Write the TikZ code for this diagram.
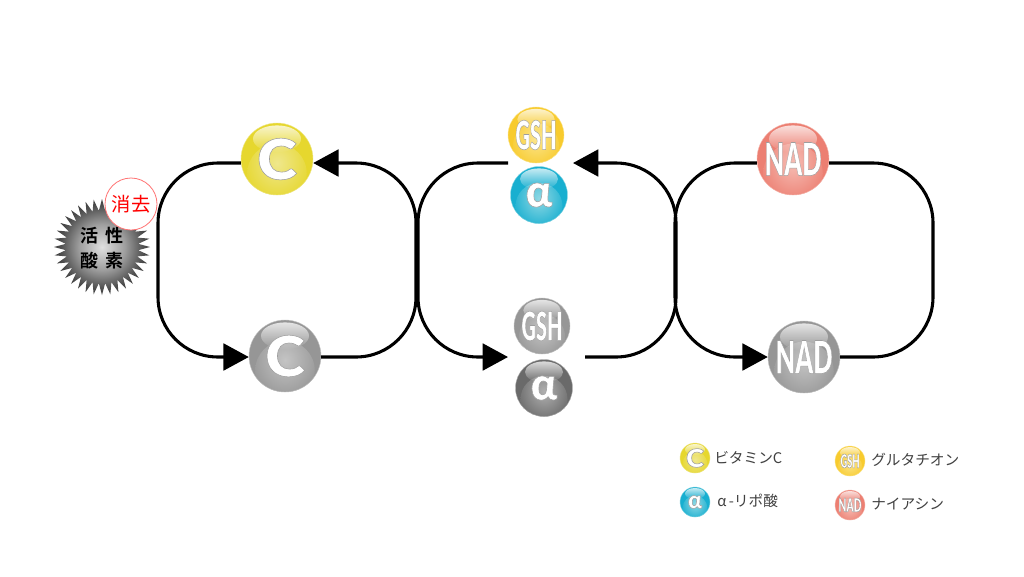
\documentclass[tikz,border=0pt]{standalone}
\usepackage{fontspec}
\usepackage{graphicx}
\setmainfont{Liberation Sans}
\newfontfamily\cjk{Noto Sans CJK JP}
\newfontfamily\cjkb{Noto Sans CJK JP Bold}
\newfontfamily\ballfont{Lato Black}
\usetikzlibrary{arrows.meta,fadings,shapes.geometric,backgrounds}
\newcommand{\balltxt}[3]{\scalebox{#2}[1]{\fontsize{#1}{#1}\ballfont\special{pdf:code q 2 Tr 0.4 w 0.62 G 1 g}#3\special{pdf:code Q}}}
\definecolor{cyel}{HTML}{E6D72E}\definecolor{cyell}{HTML}{EFE78C}
\definecolor{cgol}{HTML}{F8CB2E}\definecolor{cgoll}{HTML}{FBE58E}
\definecolor{ctea}{HTML}{18AFD0}\definecolor{cteal}{HTML}{8FD8E4}
\definecolor{cred}{HTML}{EC7F72}\definecolor{credl}{HTML}{F6BDB4}
\definecolor{cgra}{HTML}{969696}\definecolor{cgral}{HTML}{C4C4C4}
\definecolor{cdrk}{HTML}{6A6A6A}\definecolor{cdrkl}{HTML}{B0B0B0}
\pgfdeclareradialshading{burstshade}{\pgfpoint{0pt}{0pt}}{%
  color(0pt)=(white!88!black);color(12pt)=(white!62!black);color(22pt)=(black!70);color(30pt)=(black!85);color(50pt)=(black!90)}
\tikzset{
  ball/.style n args={3}{circle,inner sep=0pt,minimum size=#3*1.5pt,draw=#2,line width=0.3pt,align=center,
    path picture={
      \shade[inner color=#2,outer color=#1] ([yshift=-#3*.30pt]path picture bounding box.center) circle[radius=#3*.62pt];
      \fill[white,opacity=.75,path fading=south] ([yshift=#3*.42pt]path picture bounding box.center) ellipse[x radius=#3*.50pt,y radius=#3*.28pt];
    },
    preaction={fill=#1}},
  conn/.style={line width=2.3pt,rounded corners=45pt,line join=round},
  tip/.style={-{Triangle[length=19pt,width=20pt]}},
  legtxt/.style={anchor=west,inner sep=0pt,text=black!75,font=\cjk\fontsize{11pt}{12pt}\selectfont}
}
\begin{document}
\begin{tikzpicture}[x=0.75pt,y=-0.75pt]
\useasboundingbox[fill=white] (0,0) rectangle (1024,576);

% burst
\node[star,star points=36,star point ratio=1.32,minimum size=72pt,inner sep=0pt,
      shading=burstshade] (burst) at (102,247) {};
\node[inner sep=0pt,align=center,font=\cjkb\fontsize{13.5pt}{18.5pt}\selectfont] (burstt) at (102,248)
  {活\hspace{.35em}性\\酸\hspace{.35em}素};
\node[circle,draw=red!55,line width=.6pt,fill=white,minimum size=39pt,inner sep=0pt,text=red,
      font=\cjk\fontsize{14.5pt}{15pt}\selectfont] (kesu) at (131,204) {消去};

% balls
\node[ball={cyel}{cyell}{36}] (ctop) at (277,159) {\balltxt{42pt}{1.08}{C}};
\node[ball={cgra}{cgral}{36}] (cbot) at (285,356) {\balltxt{42pt}{1.08}{C}};
\node[ball={cgol}{cgoll}{28}] (gtop) at (536,135) {\balltxt{30pt}{.5}{GSH}};
\node[ball={ctea}{cteal}{28.5}] (atop) at (539,195) {\balltxt{34pt}{.95}{α}};
\node[ball={cgra}{cgral}{28}] (gbot) at (542,326) {\balltxt{30pt}{.5}{GSH}};
\node[ball={cdrk}{cdrkl}{28.5}] (abot) at (544,388) {\balltxt{34pt}{.95}{α}};
\node[ball={cred}{credl}{36}] (ntop) at (793,159) {\balltxt{34pt}{.56}{NAD}};
\node[ball={cgra}{cgral}{36}] (nbot) at (804,357) {\balltxt{34pt}{.56}{NAD}};

% free ends and corners
\coordinate (a1) at (158,163); \coordinate (a2) at (158,357);
\coordinate (b1) at (416,357); \coordinate (b2) at (416,163);
\coordinate (c0) at (508,163); \coordinate (c1) at (418,163); \coordinate (c2) at (418,357); \coordinate (c3) at (508,357);
\coordinate (d0) at (585,357); \coordinate (d1) at (676,357); \coordinate (d2) at (676,163); \coordinate (d3) at (573,163);
\coordinate (e1) at (675,163); \coordinate (e2) at (675,357);
\coordinate (f1) at (933,163); \coordinate (f2) at (933,357);

\draw[conn,tip] ([yshift=-3pt]ctop.west) -- (a1) -- (a2) -- (cbot.west |- a2);
\draw[conn,tip] (cbot.east |- b1) -- (b1) -- (b2) -- ([yshift=-3pt]ctop.east);
\draw[conn,tip] (c0) -- (c1) -- (c2) -- (c3);
\draw[conn,tip] (d0) -- (d1) -- (d2) -- (d3);
\draw[conn,tip] ([yshift=-3pt]ntop.west) -- (e1) -- (e2) -- (nbot.west);
\draw[conn] ([yshift=-3pt]ntop.east) -- (f1) -- (f2) -- (nbot.east);

% legend
\node[ball={cyel}{cyell}{15}] (lc) at (695,458) {\balltxt{19pt}{1.08}{C}};
\node[ball={ctea}{cteal}{15}] (la) at (695,502) {\balltxt{18pt}{.95}{α}};
\node[ball={cgol}{cgoll}{15}] (lg) at (850,461) {\balltxt{14pt}{.5}{GSH}};
\node[ball={cred}{credl}{15}] (ln) at (850,505) {\balltxt{14pt}{.55}{NAD}};
\node[legtxt] (tc) at (714,458) {ビタミンC};
\node[legtxt] (ta) at (717,501) {α\,-リポ酸};
\node[legtxt] (tg) at (871,460) {グルタチオン};
\node[legtxt] (tn) at (871,504) {ナイアシン};
\end{tikzpicture}
\end{document}
